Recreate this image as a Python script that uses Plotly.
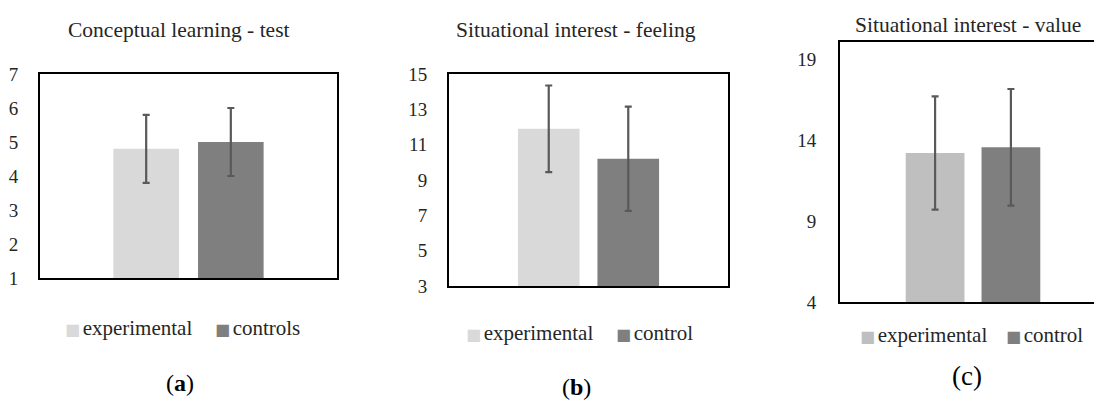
import plotly.graph_objects as go

# ---------------- data ----------------
titles = ["Conceptual learning - test", "Situational interest - feeling", "Situational interest - value"]
panel_labels = ["(<b>a</b>)", "(<b>b</b>)", "(c)"]

a_names = ["experimental", "controls"]
a_means = [4.8, 5.0]
a_sd = [1.0, 1.0]

b_names = ["experimental", "control"]
b_means = [11.9, 10.2]
b_sd = [2.45, 2.95]

c_names = ["experimental", "control"]
c_means = [13.2, 13.55]
c_sd = [3.5, 3.6]

a_ticks = [1, 2, 3, 4, 5, 6, 7]
b_ticks = [3, 5, 7, 9, 11, 13, 15]
c_ticks = [4, 9, 14, 19]

colors_ab = ["#d9d9d9", "#7f7f7f"]
colors_c = ["#bfbfbf", "#7f7f7f"]
err_color = "#595959"

W, H = 1094, 401
FONT = "Liberation Serif"
TXT = "#262626"

def px(x):
    return x / W

def py(y):
    return 1 - y / H

fig = go.Figure()

panels = [
    (a_names, a_means, a_sd, colors_ab, "x", "y"),
    (b_names, b_means, b_sd, colors_ab, "x2", "y2"),
    (c_names, c_means, c_sd, colors_c, "x3", "y3"),
]
for names, means, sds, cols, xa, ya in panels:
    for n, m, s, col in zip(names, means, sds, cols):
        fig.add_trace(go.Bar(
            x=["g"], y=[m], name=n, marker=dict(color=col, line=dict(width=0)),
            error_y=dict(type="data", array=[s], color=err_color, thickness=2.2, width=3.5),
            xaxis=xa, yaxis=ya, showlegend=False,
        ))

xcommon = dict(showgrid=False, zeroline=False, ticks="", showticklabels=False,
               showline=True, mirror=True, linecolor="black", linewidth=2, automargin=False)
ycommon = dict(showgrid=False, zeroline=False, ticks="", showline=True,
               linecolor="black", linewidth=2, automargin=False,
               tickfont=dict(family=FONT, size=19, color=TXT))

fig.update_layout(
    width=W, height=H, autosize=False,
    margin=dict(l=0, r=0, t=0, b=0, pad=0),
    paper_bgcolor="white", plot_bgcolor="white",
    barmode="group", bargap=0.43, bargroupgap=0.225,
    font=dict(family=FONT, size=19, color=TXT),
    showlegend=False,
    xaxis=dict(domain=[px(40), px(337)], range=[-0.5, 0.5], anchor="y", **xcommon),
    yaxis=dict(domain=[py(278), py(74)], range=[1, 7], tickvals=a_ticks, mirror=True,
               anchor="x", ticklabelstandoff=16, **ycommon),
    xaxis2=dict(domain=[px(449), px(728)], range=[-0.5, 0.5], anchor="y2", **xcommon),
    yaxis2=dict(domain=[py(286), py(74)], range=[3, 15], tickvals=b_ticks, mirror=True,
                anchor="x2", ticklabelstandoff=16, **ycommon),
    xaxis3=dict(domain=[px(840), 1.0], range=[-0.5, 0.5 - (1106 - 1094) / 266], anchor="y3", **xcommon),
    yaxis3=dict(domain=[py(302), py(41.7)], range=[4, 20.07], tickvals=c_ticks, mirror=False,
                anchor="x3", ticklabelstandoff=18, **ycommon),
)

# titles
title_pos = [(179, 30), (576, 30), (968, 25)]
for t, (x, y) in zip(titles, title_pos):
    fig.add_annotation(text=t, x=px(x), y=py(y), xref="paper", yref="paper",
                       showarrow=False, xanchor="center", yanchor="middle",
                       font=dict(family=FONT, size=21.5, color=TXT))

# legends (colour swatch + label), one entry per series
legend_pos = [
    ((63, 328), (213, 328)),
    ((464, 333), (614, 333)),
    ((858, 335), (1004, 335)),
]
legend_cols = [colors_ab, colors_ab, colors_c]
legend_names = [a_names, b_names, c_names]
for names, cols, poss in zip(legend_names, legend_cols, legend_pos):
    for n, col, (x, y) in zip(names, cols, poss):
        fig.add_annotation(
            text=(f'<span style="color:{col};font-family:DejaVu Sans;font-size:16px">■</span>'
                  f'<span style="font-family:{FONT};font-size:10px"> </span>'
                  f'<span style="font-family:{FONT};font-size:21px">{n}</span>'),
            x=px(x), y=py(y), xref="paper", yref="paper", showarrow=False,
            xanchor="left", yanchor="middle",
            font=dict(family=FONT, size=21, color=TXT))

label_pos = [(180, 383, 24), (576, 387, 24), (967, 376, 27)]
for t, (x, y, s) in zip(panel_labels, label_pos):
    fig.add_annotation(text=t, x=px(x), y=py(y), xref="paper", yref="paper",
                       showarrow=False, xanchor="center", yanchor="middle",
                       font=dict(family=FONT, size=s, color="black"))

# the page body normally adds an 8px margin; remove it so the figure fills the window
fig.write_html("out.html", config={"displayModeBar": False},
               post_script="document.body.style.margin='0px';document.body.style.overflow='hidden';")
